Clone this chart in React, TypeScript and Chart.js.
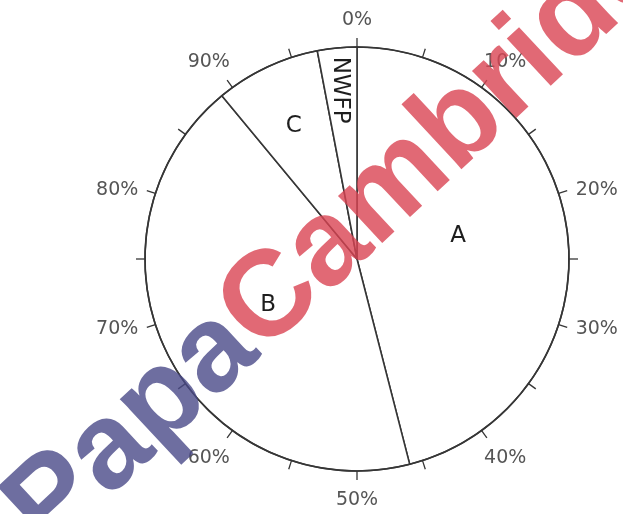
import React, { useEffect, useRef } from "react";
import { Chart, registerables } from "chart.js";

Chart.register(...registerables);

// ---- data ----
const categories = ["A", "B", "C", "NWFP"];
const shares = [46, 43, 8, 3];
const majorTicks = [0, 10, 20, 30, 40, 50, 60, 70, 80, 90];
const minorTicks = [5, 15, 25, 35, 45, 55, 65, 75, 85, 95];
const tickLabels = ["0%", "10%", "20%", "30%", "40%", "50%", "60%", "70%", "80%", "90%"];
const watermarkParts = ["Papa", "Cambridge"];

// ---- style ----
const LINE = "#363636";
const labelRadiusFrac = [0.49, 0.47, 0.7, 0.8];
const labelAngleShift = [-6, 0, 0, 0]; // degrees
const labelRotation = [0, 0, 0, Math.PI / 2];

const ringPlugin = {
  id: "ring",
  afterDatasetsDraw(chart: any) {
    const ctx: CanvasRenderingContext2D = chart.ctx;
    const meta = chart.getDatasetMeta(0);
    const first = meta.data[0] as any;
    const { x: cx, y: cy, outerRadius: r } = first.getProps(["x", "y", "outerRadius"], true);
    ctx.save();
    // outline
    ctx.strokeStyle = LINE;
    ctx.lineWidth = 1.6;
    ctx.beginPath();
    ctx.arc(cx, cy, r, 0, Math.PI * 2);
    ctx.stroke();
    // ticks
    const all = [...majorTicks, ...minorTicks];
    ctx.lineWidth = 1.3;
    all.forEach((p) => {
      const a = (p / 100) * Math.PI * 2 - Math.PI / 2;
      const dx = Math.cos(a), dy = Math.sin(a);
      ctx.beginPath();
      ctx.moveTo(cx + dx * r, cy + dy * r);
      ctx.lineTo(cx + dx * (r + 9), cy + dy * (r + 9));
      ctx.stroke();
    });
    // percent labels
    ctx.font = "19px 'DejaVu Sans'";
    ctx.fillStyle = "#555555";
    ctx.textAlign = "center";
    ctx.textBaseline = "middle";
    majorTicks.forEach((p, i) => {
      const a = (p / 100) * Math.PI * 2 - Math.PI / 2;
      const dx = Math.cos(a), dy = Math.sin(a);
      const txt = tickLabels[i];
      const w = ctx.measureText(txt).width;
      const gap = 10;
      const px = cx + dx * (r + 9) + dx * (gap + w / 2);
      const offY = Math.abs(dy) > 0.5 ? Math.sign(dy) * 19 : dy * 4;
      const py = cy + dy * (r + 9) + offY;
      ctx.fillText(txt, px, py + 1);
    });
    // slice labels
    ctx.fillStyle = "#1e1e1e";
    ctx.font = "23px 'DejaVu Sans'";
    meta.data.forEach((arc: any, i: number) => {
      const { startAngle, endAngle } = arc.getProps(["startAngle", "endAngle"], true);
      const mid = (startAngle + endAngle) / 2 + (labelAngleShift[i] * Math.PI) / 180;
      const R = r * labelRadiusFrac[i];
      ctx.save();
      ctx.translate(cx + Math.cos(mid) * R, cy + Math.sin(mid) * R);
      ctx.rotate(labelRotation[i]);
      ctx.fillText(categories[i], 0, 1);
      ctx.restore();
    });
    ctx.restore();
  },
  afterDraw(chart: any) {
    const ctx: CanvasRenderingContext2D = chart.ctx;
    ctx.save();
    ctx.globalAlpha = 0.8;
    ctx.translate(262, 355);
    ctx.rotate((-43 * Math.PI) / 180);
    ctx.font = "bold 122px 'Liberation Sans'";
    ctx.textBaseline = "alphabetic";
    ctx.textAlign = "right";
    ctx.fillStyle = "rgb(74,74,136)";
    ctx.fillText(watermarkParts[0], 0, 0);
    ctx.textAlign = "left";
    ctx.fillStyle = "rgb(217,68,82)";
    ctx.fillText(watermarkParts[1], 0, 0);
    ctx.restore();
  },
};

export default function App() {
  const ref = useRef<HTMLCanvasElement | null>(null);
  useEffect(() => {
    if (!ref.current) return;
    const chart = new Chart(ref.current, {
      type: "pie",
      data: {
        labels: categories,
        datasets: [
          {
            data: shares,
            backgroundColor: "#ffffff",
            borderColor: LINE,
            borderWidth: 1.6,
          },
        ],
      },
      options: {
        responsive: false,
        animation: false,
        radius: 212,
        layout: { padding: { left: 91, right: 0, top: 4, bottom: 0 } },
        plugins: { legend: { display: false }, tooltip: { enabled: false } },
      } as any,
      plugins: [ringPlugin],
    });
    return () => chart.destroy();
  }, []);
  return (
    <div style={{ position: "fixed", left: 0, top: 0, width: 623, height: 514, background: "#fff" }}>
      <canvas ref={ref} width={623} height={514} />
    </div>
  );
}
